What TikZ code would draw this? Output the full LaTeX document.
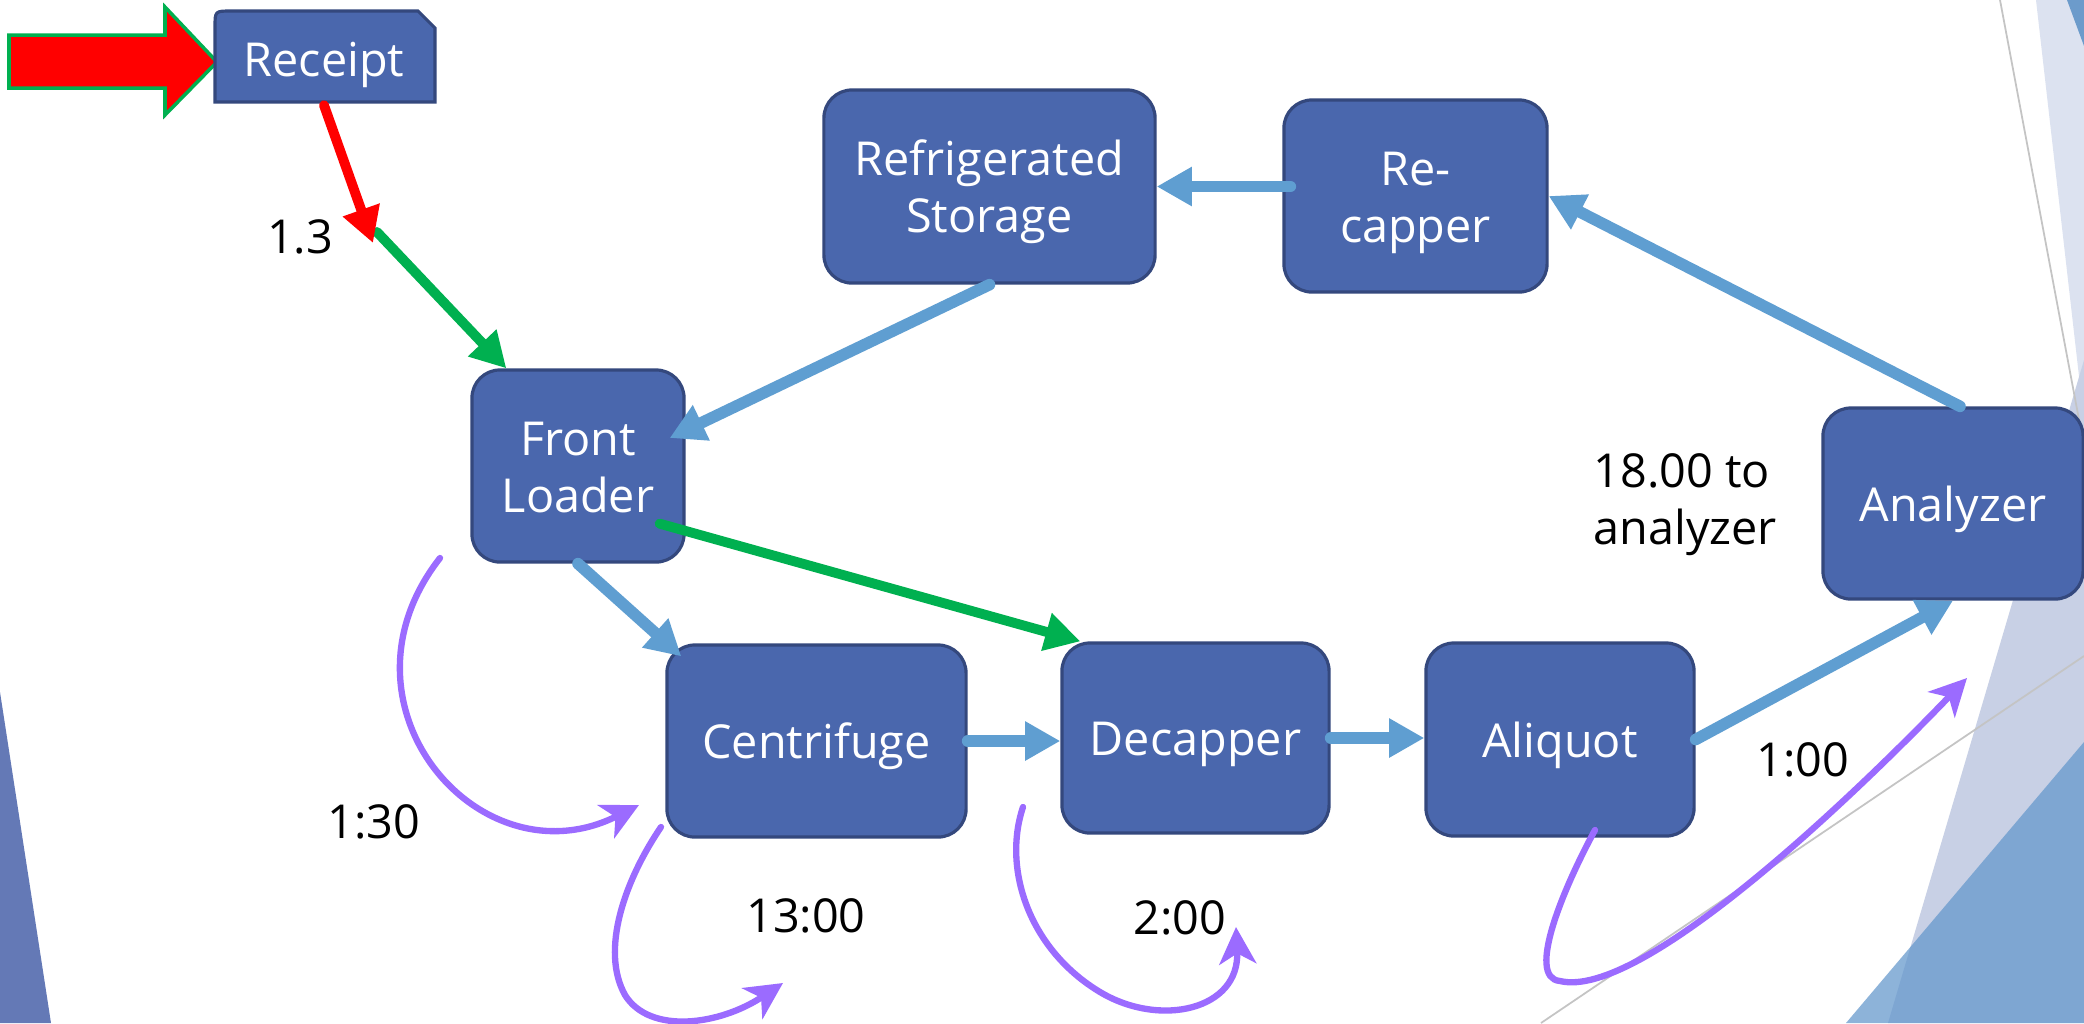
\documentclass[tikz,border=0pt]{standalone}
\usepackage{fontspec}
\setmainfont{Open Sans}
\usetikzlibrary{arrows.meta,calc}

\definecolor{boxfill}{HTML}{4A67AD}
\definecolor{boxline}{HTML}{34487D}
\definecolor{flowblue}{HTML}{5F9ED1}
\definecolor{flowgreen}{HTML}{00B050}
\definecolor{flowred}{HTML}{FF0000}
\definecolor{loopviolet}{HTML}{9B6BFF}
\definecolor{facetlav}{HTML}{C8D0E5}
\definecolor{facetlight}{HTML}{DCE2F0}
\definecolor{facetblue}{RGB}{99,151,204}
\definecolor{facetcorner}{HTML}{6C9BCB}
\definecolor{facetleft}{HTML}{6479B6}
\definecolor{thinline}{HTML}{C4C4C4}

% a text line with fixed height 10.1pt and no depth
\newcommand\bline[1]{\rule{0pt}{10.1pt}\smash{#1}}

\begin{document}
\begin{tikzpicture}[x=0.01cm,y=-0.01cm,
  font=\fontsize{13.3pt}{16.3pt}\selectfont,
  stage/.style={draw=boxline, fill=boxfill, line width=0.9pt, rounded corners=0.28cm,
    text=white, align=center, inner sep=0pt},
  lbl/.style={text=black, inner sep=0pt},
  blueflow/.style={draw=flowblue, line width=3.3pt, line cap=round,
    -{Triangle[length=10pt,width=10.5pt]}},
  greenflow/.style={draw=flowgreen, line width=2.8pt, line cap=round,
    -{Triangle[length=10pt,width=10.5pt]}},
  redflow/.style={draw=flowred, line width=2.8pt, line cap=round,
    -{Triangle[length=10pt,width=10.5pt]}},
  timeloop/.style={draw=loopviolet, line width=1.8pt, line cap=round,
    -{Stealth[length=10.5pt,width=10.5pt,inset=3pt]}}
]
\useasboundingbox (0,0) rectangle (2084,1023);
\fill[white] (0,0) rectangle (2084,1023);

% background facets
\fill[facetleft] (0,692) -- (51,1023) -- (0,1023) -- cycle;
\fill[facetlight] (2036,0) -- (2084,0) -- (2084,420) -- cycle;
\fill[facetlav] (2084,360) -- (1888,1023) -- (2084,1023) -- cycle;
\fill[facetblue, opacity=0.73] (2084,742) -- (1846,1023) -- (2084,1023) -- cycle;
\fill[facetcorner] (2067,0) -- (2084,0) -- (2084,46) -- cycle;
\draw[thinline, line width=0.5pt] (2000,0) -- (2080,425);
\draw[thinline, line width=0.5pt] (1541,1023) -- (2084,656);

% entry block arrow
\filldraw[fill=flowred, draw=flowgreen, line width=1pt]
  (9,35) -- (165,35) -- (165,7) -- (217,62) -- (165,115) -- (165,88) -- (9,88) -- cycle;

% receipt box (snipped top-right, rounded top-left)
\filldraw[fill=boxfill, draw=boxline, line width=0.9pt]
  (215,102) -- (215,27) .. controls (215,11) .. (231,11) -- (418,11) -- (435,28) -- (435,102) -- cycle;
\node[text=white, inner sep=0pt, minimum width=2.2cm, minimum height=0.91cm]
  (receipt) at (324,59) {\bline{Receipt}};

% process boxes
\node[stage, minimum width=3.31cm, minimum height=1.93cm] (ref) at (989.5,186.5)
  {\bline{Refrigerated}\\\bline{Storage}};
\node[stage, minimum width=2.63cm, minimum height=1.92cm] (recap) at (1415.5,196)
  {\bline{Re-}\\\bline{capper}};
\node[stage, minimum width=2.12cm, minimum height=1.92cm] (front) at (578,466)
  {\bline{Front}\\\bline{Loader}};
\node[stage, minimum width=2.60cm, minimum height=1.91cm] (analyzer) at (1953,503.5) {\bline{Analyzer}};
\node[stage, minimum width=2.99cm, minimum height=1.92cm] (centr) at (816.5,741) {\bline{Centrifuge}};
\node[stage, minimum width=2.67cm, minimum height=1.90cm] (decap) at (1195.5,738) {\bline{Decapper}};
\node[stage, minimum width=2.68cm, minimum height=1.93cm] (aliq) at (1560,739.5) {\bline{Aliquot}};

% labels
\node[lbl] (t13) at (300,237) {1.3};
\node[lbl] (t130) at (374,822) {1:30};
\node[lbl] (t1300) at (806,916) {13:00};
\node[lbl] (t200) at (1180,918) {2:00};
\node[lbl] (t100) at (1803,760) {1:00};
\node[lbl, align=left, anchor=north west] (t18) at (1593,453) {18.00 to\\analyzer};

% junction points
\coordinate (redend) at (373,243);
\coordinate (greenstart) at (377,232);

% green flows
\draw[greenflow] (greenstart) -- ($(front.north west)+(36,0)$);
\draw[greenflow] ($(front.south east)+(-26,-40)$) -- ($(decap.north west)+(20,0)$);

% red flow
\draw[redflow] (receipt.south) -- (redend);

% blue flows
\draw[blueflow] ($(recap.west |- ref.east)+(8,0)$) -- (ref.east);
\draw[blueflow] (ref.south) -- ($(front.east)+(-16,-28)$);
\draw[blueflow] ($(analyzer.north)+(7,0)$) -- (recap.east);
\draw[blueflow] (front.south) -- ($(centr.north west)+(16,13)$);
\draw[blueflow] (centr.east) -- (decap.west |- centr.east);
\draw[blueflow] (decap.east) -- (aliq.west |- decap.east);
\draw[blueflow] (aliq.east) -- (analyzer.south);

% waiting-time loops
\coordinate (w1s) at (440,558);
\coordinate (w1e) at (639,805);
\coordinate (w2s) at (661,827);
\coordinate (w2e) at (783,983);
\coordinate (w3s) at (1023,807);
\coordinate (w3e) at (1236,927);
\coordinate (w4s) at (1595,830);
\coordinate (w4e) at (1967,678);

\draw[timeloop] (w1s) .. controls (325,705) and (480,885) .. (w1e);
\draw[timeloop] (w2s) .. controls (625,880) and (600,950) .. (625,995)
  .. controls (650,1035) and (720,1025) .. (w2e);
\draw[timeloop] (w3s) .. controls (1002,870) and (1030,950) .. (1100,992)
  .. controls (1160,1028) and (1240,1010) .. (w3e);
\draw[timeloop] (w4s) .. controls (1565,885) and (1525,978) .. (1560,981)
  .. controls (1640,1000) and (1850,800) .. (w4e);
\end{tikzpicture}
\end{document}
